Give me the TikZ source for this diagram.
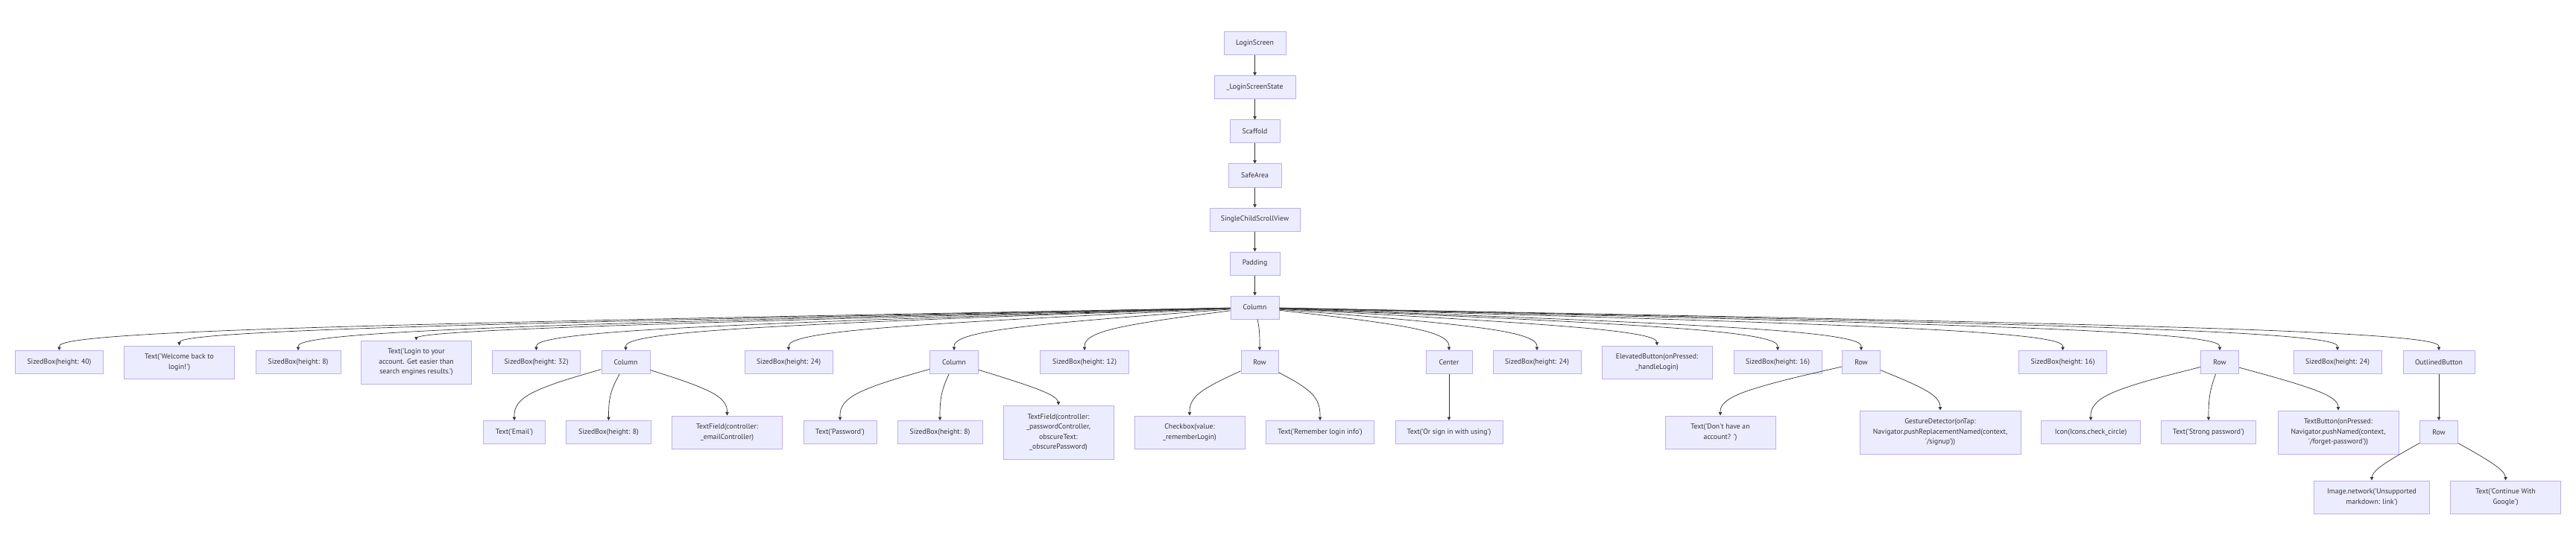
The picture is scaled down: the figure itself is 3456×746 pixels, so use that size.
\documentclass[tikz,border=0pt]{standalone}
\usepackage{fontspec}
\newfontfamily\fnt{PT Sans}
\usetikzlibrary{arrows.meta,calc}
\definecolor{boxfill}{HTML}{ECECFF}
\definecolor{boxline}{HTML}{BEAEF0}
\definecolor{edgec}{HTML}{333333}
\definecolor{txtc}{HTML}{333333}
\tikzset{
  box/.style={draw=boxline, fill=boxfill, line width=1pt, inner sep=0pt, align=center,
    font=\fnt\fontsize{9.7}{13.5}\selectfont, text=txtc, minimum height=31},
  edge/.style={draw=edgec, line width=0.7pt, -{Triangle[length=4.5pt,width=4.5pt]}}
}
\newcommand{\flowedge}[3]{%
  \coordinate (M) at (#2.north |- 0,#3);
  \path (#1) -- (M) coordinate[pos=0] (S);
  \coordinate (P1) at ($(S)!1/6!(M)$);
  \coordinate (C1) at ($(S)!1/3!(M)$);
  \coordinate (C2) at ($(S)!2/3!(M)$);
  \coordinate (SE) at ($(S)!0.5!(#2.north)$);
  \coordinate (Q) at ($(M)!1/3!(SE)$);
  \coordinate (C3) at ($(M)!1/3!(#2.north)$);
  \coordinate (C4) at ($(M)!2/3!(#2.north)$);
  \coordinate (P2) at ($(M)!5/6!(#2.north)$);
  \draw[edge] (S) -- (P1) .. controls (C1) and (C2) .. (Q) .. controls (C3) and (C4) .. (P2) -- (#2);
}
\begin{document}
\begin{tikzpicture}[x=1pt,y=-1pt]
\useasboundingbox[fill=white] (0,0) rectangle (3456,746);
% top chain
\node[box, minimum width=83] (ls) at (1683.5,58.5) {LoginScreen};
\node[box, minimum width=109] (lss) at (1683.5,117.5) {\_LoginScreenState};
\node[box, minimum width=67] (sc) at (1683.5,176.5) {Scaffold};
\node[box, minimum width=71] (sa) at (1683.5,235.5) {SafeArea};
\node[box, minimum width=121] (scsv) at (1683.5,294.5) {SingleChildScrollView};
\node[box, minimum width=67] (pad) at (1683.5,353.5) {Padding};
\node[box, minimum width=65] (col) at (1683.5,412.5) {Column};
% rank 7
\node[box, minimum width=118] (a1) at (79.5,486) {SizedBox(height: 40)};
\node[box, minimum width=148, minimum height=44] (a2) at (240.5,486) {Text('Welcome back to\\login!')};
\node[box, minimum width=114] (a3) at (400,486) {SizedBox(height: 8)};
\node[box, minimum width=148, minimum height=58] (a4) at (558.5,486) {Text('Login to your\\account. Get easier than\\search engines results.')};
\node[box, minimum width=118] (a5) at (719.5,486) {SizedBox(height: 32)};
\node[box, minimum width=65] (a6) at (839.5,486) {Column};
\node[box, minimum width=118] (a7) at (1058,486) {SizedBox(height: 24)};
\node[box, minimum width=65] (a8) at (1280,486) {Column};
\node[box, minimum width=119] (a9) at (1455,486) {SizedBox(height: 12)};
\node[box, minimum width=50] (a10) at (1690,486) {Row};
\node[box, minimum width=62] (a11) at (1944,486) {Center};
\node[box, minimum width=118] (a12) at (2062,486) {SizedBox(height: 24)};
\node[box, minimum width=148, minimum height=44] (a13) at (2223,486) {ElevatedButton(onPressed:\\\_handleLogin)};
\node[box, minimum width=118] (a14) at (2385,486) {SizedBox(height: 16)};
\node[box, minimum width=51] (a15) at (2497,486) {Row};
\node[box, minimum width=118] (a16) at (2767.5,486) {SizedBox(height: 16)};
\node[box, minimum width=51] (a17) at (2978,486) {Row};
\node[box, minimum width=118] (a18) at (3136,486) {SizedBox(height: 24)};
\node[box, minimum width=96] (a19) at (3272,486) {OutlinedButton};
% rank 8
\node[box, minimum width=83] (b1) at (690,580) {Text('Email')};
\node[box, minimum width=114] (b2) at (816.5,580) {SizedBox(height: 8)};
\node[box, minimum width=148, minimum height=44] (b3) at (975.5,580) {TextField(controller:\\\_emailController)};
\node[box, minimum width=98] (b4) at (1127,580) {Text('Password')};
\node[box, minimum width=114] (b5) at (1261,580) {SizedBox(height: 8)};
\node[box, minimum width=148, minimum height=72] (b6) at (1420,580) {TextField(controller:\\\_passwordController,\\obscureText:\\\_obscurePassword)};
\node[box, minimum width=148, minimum height=44] (b7) at (1596,580) {Checkbox(value:\\\_rememberLogin)};
\node[box, minimum width=145] (b8) at (1771,580) {Text('Remember login info')};
\node[box, minimum width=144] (b9) at (1944,580) {Text('Or sign in with using')};
\node[box, minimum width=148, minimum height=44] (b10) at (2308,580) {Text('Don't have an\\account? ')};
\node[box, minimum width=216, minimum height=58] (b11) at (2603,580) {GestureDetector(onTap:\\Navigator.pushReplacementNamed(context,\\'/signup'))};
\node[box, minimum width=133] (b12) at (2805,580) {Icon(Icons.check\_circle)};
\node[box, minimum width=127] (b13) at (2963,580) {Text('Strong password')};
\node[box, minimum width=162, minimum height=58] (b14) at (3137,580) {TextButton(onPressed:\\Navigator.pushNamed(context,\\'/forget-password'))};
\node[box, minimum width=51] (b15) at (3272,580) {Row};
% rank 9
\node[box, minimum width=155, minimum height=44] (c1) at (3182,667) {Image.network('Unsupported\\markdown: link')};
\node[box, minimum width=148, minimum height=44] (c2) at (3361.5,667) {Text('Continue With\\Google')};
% edges
\draw[edge] (ls) -- (lss);
\draw[edge] (lss) -- (sc);
\draw[edge] (sc) -- (sa);
\draw[edge] (sa) -- (scsv);
\draw[edge] (scsv) -- (pad);
\draw[edge] (pad) -- (col);
\foreach \n in {a1,a2,a3,a4,a5,a6,a7,a8,a9,a10,a11,a12,a13,a14,a15,a16,a17,a18,a19}{\flowedge{col}{\n}{442.5}}
\flowedge{a6}{b1}{529.5}
\flowedge{a6}{b2}{529.5}
\flowedge{a6}{b3}{529.5}
\flowedge{a8}{b4}{529.5}
\flowedge{a8}{b5}{529.5}
\flowedge{a8}{b6}{529.5}
\flowedge{a10}{b7}{529.5}
\flowedge{a10}{b8}{529.5}
\flowedge{a11}{b9}{529.5}
\flowedge{a15}{b10}{529.5}
\flowedge{a15}{b11}{529.5}
\flowedge{a17}{b12}{529.5}
\flowedge{a17}{b13}{529.5}
\flowedge{a17}{b14}{529.5}
\flowedge{a19}{b15}{529.5}
\flowedge{b15}{c1}{630.5}
\flowedge{b15}{c2}{630.5}
\end{tikzpicture}
\end{document}
